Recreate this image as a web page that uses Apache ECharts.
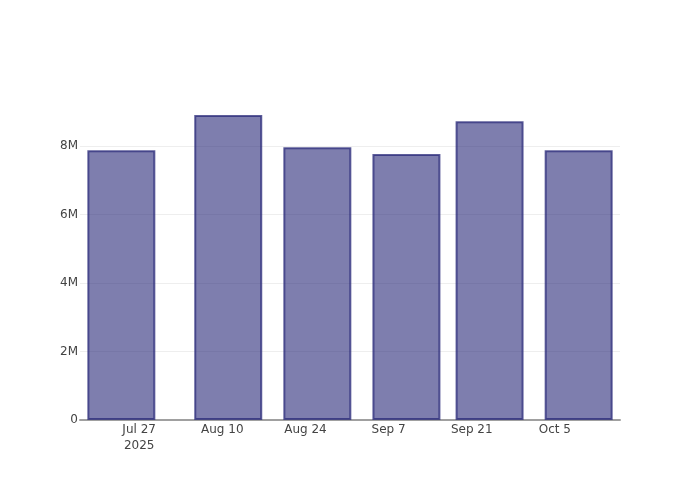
<!DOCTYPE html>
<html>
<head>
<meta charset="utf-8">
<script src="https://cdn.jsdelivr.net/npm/echarts@6/dist/echarts.min.js"></script>
<style>
  html, body { margin: 0; padding: 0; background: #fff; }
  #chart { width: 700px; height: 500px; }
</style>
</head>
<body>
<div id="chart"></div>
<script>
// bar dates and values
var dates = ['2025-07-24', '2025-08-11', '2025-08-26', '2025-09-10', '2025-09-24', '2025-10-09'];
var values = [7.88e6, 8.91e6, 7.97e6, 7.77e6, 8.73e6, 7.88e6];

// x tick positions and labels
var tickDates = ['2025-07-27', '2025-08-10', '2025-08-24', '2025-09-07', '2025-09-21', '2025-10-05'];
var tickLabels = ['Jul 27\n2025', 'Aug 10', 'Aug 24', 'Sep 7', 'Sep 21', 'Oct 5'];

// y tick values and labels
var yTicks = [0, 2e6, 4e6, 6e6, 8e6];
var yLabels = ['0', '2M', '4M', '6M', '8M'];

// x axis in days since the first tick date
function dayNum(s) {
  var p = s.split('-');
  return Date.UTC(+p[0], +p[1] - 1, +p[2]) / 86400000;
}
var origin = dayNum(tickDates[0]);
var barX = dates.map(function (d) { return dayNum(d) - origin; });
var tickX = tickDates.map(function (d) { return dayNum(d) - origin; });
var pad = 6.96; // autorange padding either side, in days

var chart = echarts.init(document.getElementById('chart'));

var option = {
  animation: false,
  textStyle: { fontFamily: 'DejaVu Sans' },
  grid: { left: 80, right: 80, top: 100, bottom: 80, containLabel: false },
  xAxis: {
    type: 'value',
    min: barX[0] - pad,
    max: barX[barX.length - 1] + pad,
    axisLine: { show: true, onZero: false, lineStyle: { color: '#a0a0a0', width: 2 } },
    axisTick: { show: false },
    splitLine: { show: false },
    axisLabel: {
      customValues: tickX,
      color: '#444',
      fontSize: 12,
      margin: 2,
      lineHeight: 16,
      formatter: function (val) {
        var i = tickX.indexOf(val);
        return i >= 0 ? tickLabels[i] : '';
      }
    }
  },
  yAxis: {
    type: 'value',
    min: 0,
    max: 9.35e6,
    interval: 2e6,
    axisLine: { show: false },
    axisTick: { show: false },
    splitLine: { show: true, showMaxLine: false, lineStyle: { color: '#eeeeee', width: 1 } },
    axisLabel: {
      customValues: yTicks,
      color: '#444',
      fontSize: 12,
      margin: 2,
      formatter: function (val) {
        var i = yTicks.indexOf(val);
        return i >= 0 ? yLabels[i] : '';
      }
    }
  },
  series: [{
    type: 'bar',
    barWidth: 68,
    data: barX.map(function (x, i) { return [x, values[i]]; }),
    itemStyle: {
      color: 'rgba(40,40,120,0.6)',
      borderColor: 'rgba(40,40,120,0.75)',
      borderWidth: 2
    }
  }]
};

chart.setOption(option);
</script>
</body>
</html>
